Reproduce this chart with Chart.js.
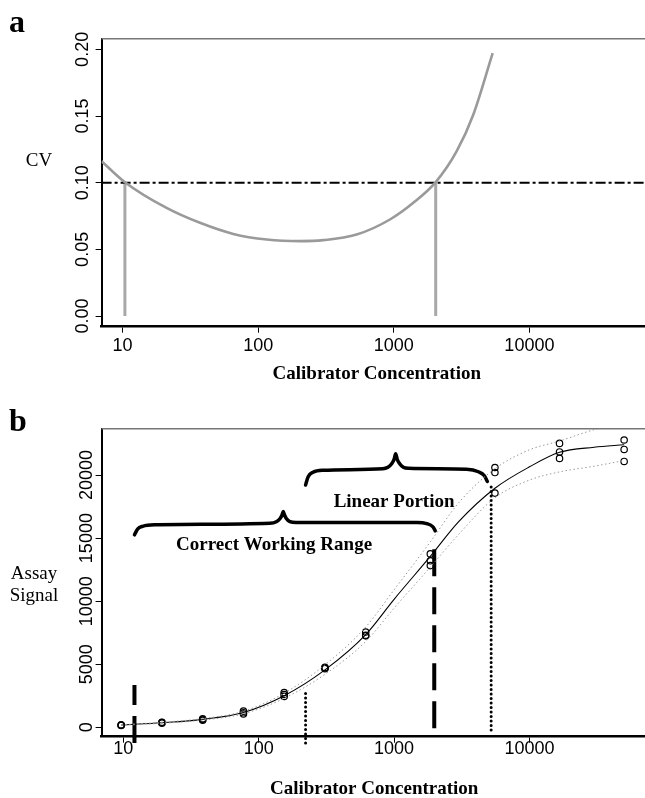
<!DOCTYPE html>
<html>
<head>
<meta charset="utf-8">
<script src="https://cdn.jsdelivr.net/npm/chart.js@4.4.1/dist/chart.umd.min.js"></script>
<style>
  html, body { margin: 0; padding: 0; background: #fff; overflow: hidden; }
  .panel { position: absolute; left: 0; }
</style>
</head>
<body>
<div class="panel" style="top:0"><canvas id="cvChart" width="652" height="395"></canvas></div>
<div class="panel" style="top:395px"><canvas id="signalChart" width="652" height="403"></canvas></div>
<script>
// ---- panel a : precision profile ----
const cvConc   = [7.0, 10.4, 21.1, 37.2, 65.5, 115.6, 203, 302, 532, 937, 1393, 2037, 2910, 3855, 5360];
const cvValues = [0.1161, 0.1004, 0.0811, 0.0699, 0.0616, 0.0574, 0.0562, 0.0569, 0.0611, 0.0724, 0.0849, 0.1004, 0.1236, 0.1510, 0.1972];
const cvLimit = 0.10;
const cvCutoffs = [10.4, 2037];
const cvTicks = [0, 0.05, 0.10, 0.15, 0.20];

// ---- panel b : calibration curve ----
const stdConc = [9.65, 19.3, 38.6, 77.2, 154.3, 308.6, 617.3, 1852, 5556, 16667, 50000];
const rep1 = [150, 330, 560, 1050, 2450, 4650, 7250, 12820, 18570, 21320, 21080];
const rep2 = [160, 380, 620, 1150, 2600, 4700, 7300, 13200, 20200, 21830, 22030];
const rep3 = [200, 400, 680, 1280, 2750, 4750, 7550, 13750, 20600, 22510, 22780];

const fitConc  = [9.65, 19.3, 38.6, 77.2, 154.3, 308.6, 617.3, 1000, 1852, 3000, 5556, 10000, 16667, 30000, 50000];
const fitMid   = [180, 360, 630, 1170, 2500, 4550, 7350, 10150, 13550, 16300, 18950, 20650, 21800, 22200, 22400];
const fitUpper = [200, 400, 690, 1270, 2700, 4950, 7950, 10900, 14700, 17800, 20500, 22000, 22700, 23600, 24200];
const fitLower = [160, 320, 570, 1070, 2300, 4200, 6800, 9450, 12700, 15300, 18200, 19600, 20250, 20700, 21150];

const signalTicks = [0, 5000, 10000, 15000, 20000];
const concTicks = [10, 100, 1000, 10000];

// range markers: [conc, bottom signal, top signal]
const lodLine   = [12.1, -1250, 3360];
const uloqLine  = [1980, -80, 14500];
const linLow    = [222, -1250, 2960];
const linHigh   = [5210, -214, 19230];

// braces
const braceWorkConc = [12.1, 12.8, 13.9, 17.0, 121, 135, 144, 149, 152, 155, 160, 170, 189, 1479, 1740, 1936, 2014];
const braceWorkSig  = [15262, 15738, 15937, 16056, 16180, 16300, 16550, 16850, 17111, 16850, 16550, 16300, 16230, 16230, 16150, 15897, 15579];
const braceLinConc  = [222, 232, 252, 299, 825, 900, 960, 1000, 1027, 1055, 1100, 1170, 1279, 3434, 4200, 4645, 4887];
const braceLinSig   = [19206, 19865, 20222, 20381, 20500, 20620, 20900, 21250, 21690, 21250, 20900, 20620, 20530, 20460, 20262, 19944, 19492];

const noteTexts  = ['Linear Portion', 'Correct Working Range'];
const noteConc   = [1000, 130];
const noteSignal = [17850, 14470];

const serif = '"Liberation Serif", "Times New Roman", serif';
const sans = '"Liberation Sans", Arial, sans-serif';

function pairs(xs, ys) {
    return xs.map((x, i) => ({ x: x, y: ys[i] }));
}

function vline(v) {
    return [{ x: v[0], y: v[1] }, { x: v[0], y: v[2] }];
}

const framePlugin = {
    id: 'frame',
    afterDraw(chart, args, opts) {
        const { ctx, chartArea } = chart;
        ctx.save();
        ctx.strokeStyle = '#777';
        ctx.lineWidth = 1.5;
        ctx.beginPath();
        ctx.moveTo(chartArea.left, chartArea.top);
        ctx.lineTo(chartArea.right, chartArea.top);
        ctx.stroke();

        ctx.fillStyle = '#000';
        ctx.font = 'bold 32px ' + serif;
        ctx.textAlign = 'left';
        ctx.textBaseline = 'alphabetic';
        ctx.fillText(opts.letter, 9, opts.letterY);

        ctx.font = '19px ' + serif;
        ctx.textAlign = 'center';
        ctx.textBaseline = 'middle';
        opts.yTitle.forEach((line, i) => ctx.fillText(line, opts.yTitleX, opts.yTitleY + i * 22));

        const xs = chart.scales.x, ys = chart.scales.y;
        ctx.font = 'bold 19px ' + serif;
        (opts.notes || []).forEach(n => {
            ctx.fillText(n.text, xs.getPixelForValue(n.x), ys.getPixelForValue(n.y));
        });
        ctx.restore();
    }
};

function xAxis(min, max, height, tickPad, titlePad) {
    return {
        type: 'logarithmic',
        min: min,
        max: max,
        afterBuildTicks: s => { s.ticks = concTicks.map(v => ({ value: v })); },
        afterFit: s => { s.height = height; },
        ticks: {
            color: '#000',
            font: { family: sans, size: 18 },
            padding: tickPad,
            maxRotation: 0,
            callback: v => String(v)
        },
        grid: { drawOnChartArea: false, drawTicks: true, tickLength: 6, color: '#000', tickWidth: 1 },
        border: { display: true, color: '#000', width: 2.5 },
        title: {
            display: true,
            text: 'Calibrator Concentration',
            color: '#000',
            font: { family: serif, size: 19, weight: 'bold' },
            padding: { top: 0, bottom: titlePad }
        }
    };
}

function yAxis(min, max, ticks, fmt, labelPad) {
    return {
        type: 'linear',
        min: min,
        max: max,
        afterBuildTicks: s => { s.ticks = ticks.map(v => ({ value: v })); },
        afterFit: s => { s.width = 101.6; },
        ticks: {
            color: '#000',
            font: { family: sans, size: 18 },
            minRotation: 90,
            maxRotation: 90,
            crossAlign: 'center',
            padding: labelPad,
            callback: fmt
        },
        grid: { drawOnChartArea: false, drawTicks: true, tickLength: 6, color: '#000', tickWidth: 1 },
        border: { display: true, color: '#000', width: 2 }
    };
}

// ---------- chart a ----------
new Chart(document.getElementById('cvChart'), {
    type: 'scatter',
    data: {
        datasets: [
            {
                data: pairs(cvConc, cvValues),
                showLine: true,
                borderColor: '#9a9a9a',
                borderWidth: 2.6,
                pointRadius: 0,
                cubicInterpolationMode: 'monotone'
            },
            {
                data: [{ x: 7.0, y: cvLimit }, { x: 80200, y: cvLimit }],
                showLine: true,
                borderColor: '#000',
                borderWidth: 2,
                borderDash: [10, 3, 3, 3],
                pointRadius: 0
            },
            {
                data: [{ x: cvCutoffs[0], y: 0 }, { x: cvCutoffs[0], y: cvLimit }],
                showLine: true, borderColor: '#a8a8a8', borderWidth: 3, pointRadius: 0
            },
            {
                data: [{ x: cvCutoffs[1], y: 0 }, { x: cvCutoffs[1], y: cvLimit }],
                showLine: true, borderColor: '#a8a8a8', borderWidth: 3, pointRadius: 0
            }
        ]
    },
    options: {
        responsive: false,
        animation: false,
        layout: { padding: { top: 38.7, left: 0, right: 0, bottom: 0 } },
        scales: {
            x: xAxis(7.0, 80200, 68.3, 3, 10),
            y: yAxis(-0.008, 0.208, cvTicks, v => v.toFixed(2), -4.9)
        },
        plugins: {
            legend: { display: false },
            tooltip: { enabled: false },
            frame: { letter: 'a', letterY: 31.7, yTitle: ['CV'], yTitleX: 39, yTitleY: 161 }
        }
    },
    plugins: [framePlugin]
});

// ---------- chart b ----------
const braceStyle = {
    showLine: true, borderColor: '#000', borderWidth: 3.5, pointRadius: 0,
    cubicInterpolationMode: 'monotone', borderCapStyle: 'round', borderJoinStyle: 'round'
};
const dotStyle = {
    showLine: true, borderColor: '#000', borderWidth: 3, pointRadius: 0,
    borderDash: [0.1, 4.4], borderCapStyle: 'round', clip: false
};
const dashStyle = {
    showLine: true, borderColor: '#000', borderWidth: 4, pointRadius: 0,
    borderDash: [27, 11], clip: false
};

new Chart(document.getElementById('signalChart'), {
    type: 'scatter',
    data: {
        datasets: [
            Object.assign({ data: pairs(fitConc, fitUpper) }, {
                showLine: true, borderColor: '#9a9a9a', borderWidth: 1, borderDash: [1.5, 2.5],
                pointRadius: 0, cubicInterpolationMode: 'monotone'
            }),
            Object.assign({ data: pairs(fitConc, fitLower) }, {
                showLine: true, borderColor: '#9a9a9a', borderWidth: 1, borderDash: [1.5, 2.5],
                pointRadius: 0, cubicInterpolationMode: 'monotone'
            }),
            {
                data: pairs(fitConc, fitMid),
                showLine: true, borderColor: '#000', borderWidth: 1.1, pointRadius: 0,
                cubicInterpolationMode: 'monotone'
            },
            {
                data: pairs(stdConc, rep1).concat(pairs(stdConc, rep2), pairs(stdConc, rep3)),
                showLine: false,
                pointStyle: 'circle',
                pointRadius: 3.2,
                pointBorderWidth: 1.2,
                pointBorderColor: '#000',
                pointBackgroundColor: 'rgba(0,0,0,0)'
            },
            Object.assign({ data: vline(lodLine) }, dashStyle),
            Object.assign({ data: vline(uloqLine) }, dashStyle),
            Object.assign({ data: vline(linLow) }, dotStyle),
            Object.assign({ data: vline(linHigh) }, dotStyle),
            Object.assign({ data: pairs(braceWorkConc, braceWorkSig) }, braceStyle),
            Object.assign({ data: pairs(braceLinConc, braceLinSig) }, braceStyle)
        ]
    },
    options: {
        responsive: false,
        animation: false,
        layout: { padding: { top: 33.7, left: 0, right: 0, bottom: 0 } },
        scales: {
            x: xAxis(6.92, 73500, 61.3, -4.6, -2.4),
            y: yAxis(-746, 23675, signalTicks, v => String(v), -16.9)
        },
        plugins: {
            legend: { display: false },
            tooltip: { enabled: false },
            frame: {
                letter: 'b', letterY: 36, yTitle: ['Assay', 'Signal'], yTitleX: 34, yTitleY: 179,
                notes: noteTexts.map((t, i) => ({ text: t, x: noteConc[i], y: noteSignal[i] }))
            }
        }
    },
    plugins: [framePlugin]
});
</script>
</body>
</html>
